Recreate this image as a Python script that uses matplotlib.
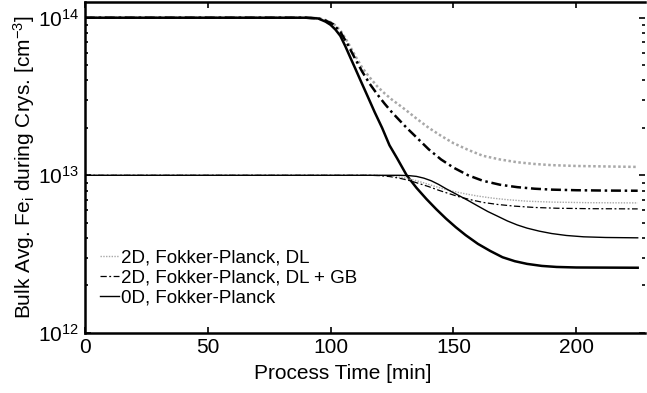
import matplotlib
matplotlib.use("Agg")
import matplotlib.pyplot as plt
from matplotlib.ticker import LogLocator, NullFormatter, FixedLocator

plt.rcParams['font.family'] = ['Liberation Sans', 'DejaVu Sans']
plt.rcParams['mathtext.fontset'] = 'custom'
plt.rcParams['mathtext.rm'] = 'Liberation Sans'
plt.rcParams['mathtext.it'] = 'Liberation Sans'

# ---- data ----
# High initial concentration group (1e14)
t_0d_hi = [0, 90, 95, 98, 100, 102, 104, 106, 108, 110, 112, 115, 118, 121, 124, 127, 131, 135, 139, 143,
           147, 151, 155, 160, 165, 170, 175, 180, 186, 192, 200, 225]
v_0d_hi = [1e14, 1e14, 9.89e13, 9.44e13, 9.02e13, 8.41e13, 7.67e13, 6.61e13, 5.62e13, 4.79e13, 4.07e13,
           3.20e13, 2.51e13, 2.0e13, 1.55e13, 1.29e13, 1.0e13, 8.32e12, 7.08e12, 6.10e12, 5.31e12, 4.68e12,
           4.17e12, 3.67e12, 3.31e12, 3.02e12, 2.85e12, 2.74e12, 2.66e12, 2.62e12, 2.60e12, 2.59e12]

t_dl_hi = [0, 90, 95, 98, 101, 104, 107, 110, 113, 116, 119, 122, 125, 128, 131, 135, 140, 145, 150, 156,
           162, 169, 176, 183, 190, 200, 212, 225]
v_dl_hi = [1e14, 1e14, 9.93e13, 9.66e13, 9.23e13, 8.32e13, 7.0e13, 5.75e13, 4.79e13, 4.17e13, 3.67e13,
           3.31e13, 3.02e13, 2.79e13, 2.57e13, 2.29e13, 2.0e13, 1.78e13, 1.60e13, 1.45e13, 1.33e13, 1.26e13,
           1.21e13, 1.18e13, 1.16e13, 1.146e13, 1.138e13, 1.13e13]

t_gb_hi = [0, 90, 95, 98, 101, 104, 107, 110, 113, 116, 119, 122, 125, 128, 131, 135, 140, 145, 150, 156,
           162, 169, 176, 183, 190, 200, 212, 225]
v_gb_hi = [1e14, 1e14, 9.91e13, 9.59e13, 9.12e13, 8.13e13, 6.76e13, 5.50e13, 4.52e13, 3.80e13, 3.27e13,
           2.85e13, 2.51e13, 2.24e13, 2.0e13, 1.74e13, 1.46e13, 1.26e13, 1.12e13, 1.0e13, 9.23e12, 8.71e12,
           8.41e12, 8.22e12, 8.11e12, 8.04e12, 8.0e12, 7.98e12]

# Low initial concentration group (1e13)
t_0d_lo = [0, 128, 132, 135, 138, 141, 144, 147, 150, 153, 156, 160, 164, 168, 172, 176, 180, 185, 190,
           196, 203, 212, 225]
v_0d_lo = [1e13, 1e13, 9.95e12, 9.84e12, 9.59e12, 9.23e12, 8.75e12, 8.22e12, 7.76e12, 7.33e12, 6.92e12,
           6.38e12, 5.89e12, 5.50e12, 5.13e12, 4.84e12, 4.62e12, 4.42e12, 4.27e12, 4.15e12, 4.07e12,
           4.03e12, 4.01e12]

t_dl_lo = [0, 118, 122, 126, 130, 134, 138, 142, 146, 150, 155, 160, 166, 172, 180, 190, 205, 225]
v_dl_lo = [1e13, 1e13, 9.95e12, 9.84e12, 9.64e12, 9.33e12, 8.95e12, 8.55e12, 8.20e12, 7.91e12, 7.62e12,
           7.38e12, 7.16e12, 7.0e12, 6.85e12, 6.76e12, 6.70e12, 6.68e12]

t_gb_lo = [0, 116, 120, 124, 128, 132, 136, 140, 144, 148, 152, 157, 162, 168, 175, 183, 192, 205, 225]
v_gb_lo = [1e13, 1e13, 9.95e12, 9.82e12, 9.59e12, 9.27e12, 8.87e12, 8.47e12, 8.04e12, 7.67e12, 7.33e12,
           7.0e12, 6.73e12, 6.53e12, 6.37e12, 6.25e12, 6.18e12, 6.14e12, 6.12e12]

labels = ['2D, Fokker-Planck, DL', '2D, Fokker-Planck, DL + GB', '0D, Fokker-Planck']
xticks = [0, 50, 100, 150, 200]

# ---- figure ----
fig = plt.figure(figsize=(6.47, 3.93), dpi=100)
ax = fig.add_axes([0.131, 0.153, 0.866, 0.842])

gray = '#a8a8a8'
dl_style = (0, (1, 1))
gb_thick = (0, (4, 1.5, 1, 1.5))
gb_thin = (0, (5, 2, 1.5, 2))

# thick group
ax.plot(t_dl_hi, v_dl_hi, color=gray, lw=1.8, ls=dl_style)
ax.plot(t_gb_hi, v_gb_hi, color='black', lw=1.8, ls=gb_thick)
ax.plot(t_0d_hi, v_0d_hi, color='black', lw=1.8, ls='-')
# thin group
l1, = ax.plot(t_dl_lo, v_dl_lo, color=gray, lw=1.0, ls=dl_style)
l2, = ax.plot(t_gb_lo, v_gb_lo, color='black', lw=0.9, ls=gb_thin)
l3, = ax.plot(t_0d_lo, v_0d_lo, color='black', lw=1.0, ls='-')

ax.set_yscale('log')
ax.set_xlim(0, 228)
ax.set_ylim(1e12, 10 ** 14.1)
ax.xaxis.set_major_locator(FixedLocator(xticks))
ax.yaxis.set_major_locator(LogLocator(base=10, numticks=10))
ax.yaxis.set_minor_locator(LogLocator(base=10, subs=range(2, 10), numticks=20))
ax.yaxis.set_minor_formatter(NullFormatter())

ax.tick_params(which='both', direction='in', top=True, right=True, labelsize=15, width=1.2)
ax.tick_params(which='major', length=4, pad=4)
ax.tick_params(which='minor', length=2)
for s in ['left', 'bottom', 'top']:
    ax.spines[s].set_linewidth(1.8)
ax.spines['right'].set_visible(False)

ax.set_xlabel('Process Time [min]', fontsize=15)
ax.xaxis.set_label_coords(0.46, -0.095)
ax.set_ylabel('Bulk Avg. Fe$_{\\mathrm{i}}$ during Crys. [cm$^{-3}$]', fontsize=15, labelpad=1)

leg = ax.legend([l1, l2, l3], labels, loc='lower left', bbox_to_anchor=(0.027, 0.08),
                frameon=False, fontsize=13.5, handlelength=1.0, handletextpad=0.1,
                labelspacing=0.15, borderaxespad=0.0, borderpad=0.0)

fig.savefig('out.png', dpi=100)
